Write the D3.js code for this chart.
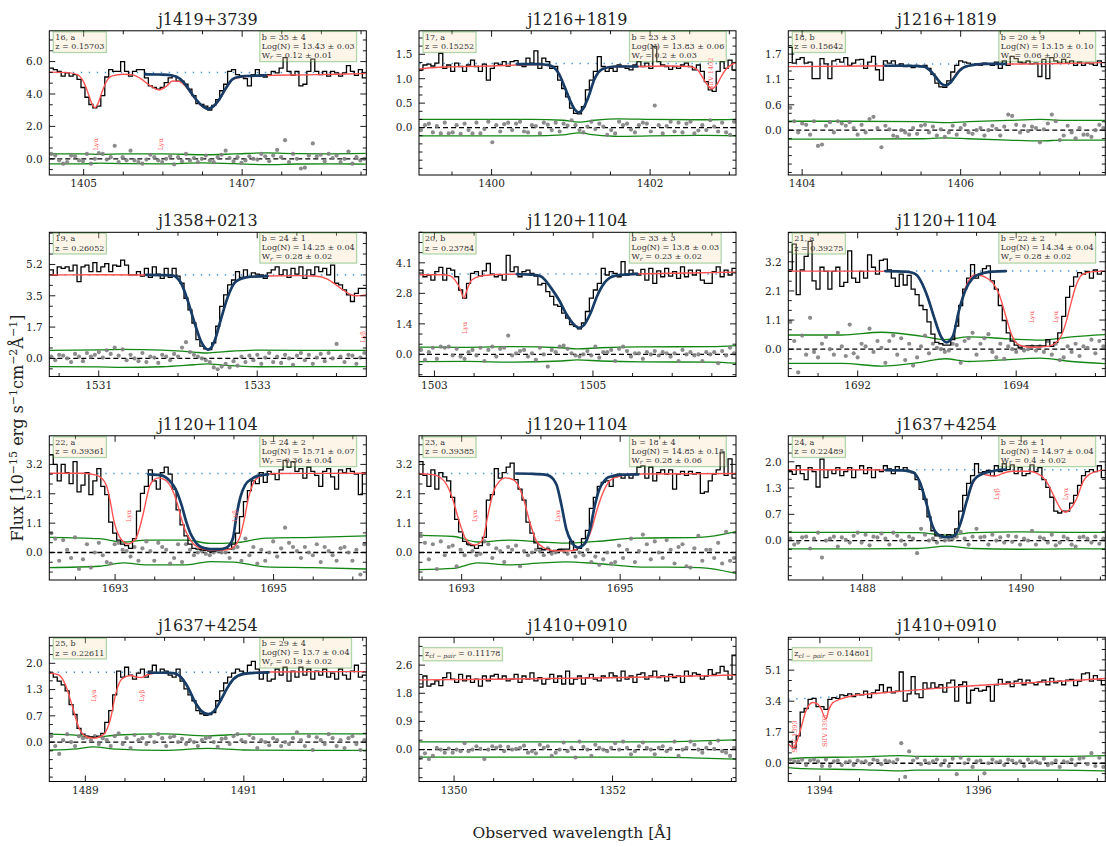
<!DOCTYPE html>
<html>
<head>
<meta charset="utf-8">
<script src="https://cdn.jsdelivr.net/npm/d3@7"></script>
<style>
  body { margin: 0; background: #fff; }
  svg text { font-family: "DejaVu Serif", "Liberation Serif", serif; }
</style>
</head>
<body>
<svg id="fig" width="1106" height="847"></svg>
<script>
// ---------------------------------------------------------------
// Absorber catalogue: one entry per panel
// ---------------------------------------------------------------
const LYA_REST = 1215.67;

const titles = ["j1419+3739", "j1216+1819", "j1216+1819", "j1358+0213", "j1120+1104", "j1120+1104",
                "j1120+1104", "j1120+1104", "j1637+4254", "j1637+4254", "j1410+0910", "j1410+0910"];
const idLabels = ["16, a", "17, a", "18, b", "19, a", "20, b", "21, a", "22, a", "23, a", "24, a", "25, b", null, null];
const zValues = ["0.15703", "0.15252", "0.15642", "0.26052", "0.23784", "0.39275",
                 "0.39361", "0.39385", "0.22489", "0.22611", "0.11178", "0.14801"];
const bLabels = ["35 ± 4", "23 ± 3", "20 ± 9", "24 ± 1", "33 ± 3", "22 ± 2", "24 ± 2", "18 ± 4", "26 ± 1", "29 ± 4", null, null];
const logNLabels = ["13.43 ± 0.03", "13.83 ± 0.06", "13.15 ± 0.10", "14.25 ± 0.04", "13.8 ± 0.03", "14.34 ± 0.04",
                    "15.71 ± 0.07", "14.85 ± 0.15", "14.97 ± 0.04", "13.7 ± 0.04", null, null];
const wLabels = ["0.12 ± 0.01", "0.2 ± 0.03", "0.06 ± 0.02", "0.28 ± 0.02", "0.23 ± 0.02", "0.28 ± 0.02",
                 "0.36 ± 0.04", "0.28 ± 0.06", "0.4 ± 0.02", "0.19 ± 0.02", null, null];

// axis ticks
const xTickLabels = [[1405, 1407], [1400, 1402], [1404, 1406], [1531, 1533], [1503, 1505], [1692, 1694],
                     [1693, 1695], [1693, 1695], [1488, 1490], [1489, 1491], [1350, 1352], [1394, 1396]];
const yTickTops = [6.0, 1.5, 1.7, 5.2, 4.14, 3.2, 3.2, 3.2, 2.0, 2.0, 2.64, 5.1];
const yLows  = [-1.0, -0.97, -1.0, -1.0, -1.0, -1.0, -1.0, -1.0, -1.0, -1.0, -1.0, -1.0];
const yHighs = [7.9, 1.98, 2.22, 6.98, 5.52, 4.28, 4.24, 4.24, 2.66, 2.66, 3.51, 6.9];

// ---------------------------------------------------------------
// Binned flux (80 bins across each 4 Å window)
// ---------------------------------------------------------------
const flux01 = [5.6,5.5,5.4,5.1,5.3,5.1,5.2,4.9,4.4,3.8, 3.35,3.15,3.25,3.9,5.05,5.5,5.4,5.4,6.0,5.4,
  5.1,5.4,5.5,5.5,5.0,4.5,4.4,4.3,4.4,4.7, 5.0,5.1,4.8,4.8,4.6,4.3,3.9,3.4,3.35,3.25,
  3.0,3.3,3.65,4.2,4.6,5.4,5.5,5.2,5.1,4.95, 4.5,5.2,5.5,5.2,5.05,5.2,5.4,5.3,5.6,6.25,
  5.4,5.15,5.4,4.5,4.6,5.4,6.15,5.4,5.2,5.4, 5.1,5.4,5.3,5.1,5.3,5.75,5.4,5.15,5.5,5.0];
const flux02 = [1.18,1.28,1.3,1.26,1.32,1.52,1.21,1.28,1.15,1.32, 1.25,1.15,1.28,1.38,1.25,1.15,1.3,0.97,1.21,1.32,
  1.28,1.35,1.26,1.35,1.37,1.28,1.25,1.42,1.32,1.57, 1.21,1.42,1.35,1.21,1.25,0.97,0.8,0.63,0.4,0.29,
  0.28,0.43,0.77,0.97,1.15,1.45,1.25,1.15,1.21,1.15, 1.28,1.25,1.21,1.18,1.28,1.35,1.25,1.32,1.21,1.66,
  1.35,1.28,1.25,1.19,1.25,1.21,1.28,1.32,1.25,1.18, 1.28,1.15,0.94,0.77,0.74,1.15,1.35,1.21,1.38,1.18];
const flux03 = [1.85,1.5,1.58,1.62,1.5,1.52,1.15,1.15,1.6,1.48, 1.15,1.55,1.58,1.52,1.62,1.45,1.5,1.57,1.58,1.38,
  1.52,1.65,1.35,1.12,1.55,1.5,1.55,1.45,1.48,1.42, 1.45,1.4,1.45,1.42,1.45,1.38,1.25,1.05,0.97,0.96,
  1.1,1.3,1.45,1.55,1.52,1.5,1.45,1.48,1.45,1.5, 1.48,1.45,1.52,1.38,1.55,1.45,1.65,1.6,1.52,1.5,
  1.55,1.48,1.5,1.2,1.58,1.15,1.62,1.55,1.5,1.58, 1.5,1.55,1.45,1.52,1.45,1.5,1.48,1.45,1.55,1.42];
const flux04 = [4.9,4.6,5.07,4.98,5.07,4.85,5.16,4.25,5.07,5.16, 4.8,5.3,4.8,5.07,5.25,4.8,5.16,5.1,5.44,5.16,
  4.62,4.62,4.8,4.56,4.98,4.49,5.07,4.67,4.43,4.98, 4.49,4.98,4.56,4.16,3.33,2.69,1.96,1.04,0.68,0.53,
  0.49,0.86,1.78,2.88,3.52,4.07,4.34,4.8,4.49,4.9, 4.52,4.74,4.67,4.62,4.43,4.74,4.9,5.07,4.62,4.9,
  4.49,4.98,4.67,5.07,4.43,4.9,4.62,5.07,4.8,4.98, 4.62,5.16,4.16,4.07,3.79,3.52,3.15,3.6,3.88,3.88];
const flux05 = [3.81,3.51,3.59,3.36,3.74,3.93,3.36,3.89,3.81,3.51, 2.91,2.54,3.21,3.66,3.74,3.54,3.78,4.11,3.63,3.51,
  3.59,3.36,4.48,3.74,3.96,3.51,3.74,3.81,3.66,3.54, 3.14,3.21,2.84,2.62,2.24,2.17,1.87,1.64,1.35,1.27,
  1.15,1.42,1.94,2.54,2.91,3.21,3.89,3.59,3.74,3.66, 3.51,4.19,3.59,3.81,3.66,3.59,3.84,3.36,3.89,3.21,
  3.78,3.51,3.89,3.54,3.74,3.44,3.96,3.51,3.81,3.59, 3.81,3.36,3.21,3.21,3.74,3.96,3.51,3.81,3.59,3.89];
const flux06 = [2.9,3.85,2.0,2.9,3.4,3.95,2.5,2.2,3.0,2.85, 2.2,2.85,3.0,2.3,2.45,3.6,2.6,2.45,2.85,2.6,
  3.45,3.0,2.75,3.25,3.3,2.9,2.6,2.3,2.75,2.35, 2.7,2.2,2.0,1.6,1.45,1.0,0.55,0.25,0.2,0.15,
  0.15,0.35,0.85,1.6,2.2,2.6,3.1,2.6,2.75,2.95, 3.05,2.5,2.2,1.6,1.05,0.6,0.3,0.15,0.05,0.1,
  0.12,0.12,0.12,0.12,0.12,0.35,0.1,0.25,0.6,1.2, 1.9,2.3,2.65,2.8,2.75,2.85,2.6,2.9,2.75,2.85];
const flux07 = [3.55,3.2,2.6,3.2,2.9,2.5,3.3,2.2,2.45,2.9, 2.1,2.6,3.05,2.4,2.1,1.1,0.7,0.45,0.3,0.25,
  0.15,0.5,1.5,2.15,2.4,3.0,2.6,2.3,2.9,3.1, 2.85,2.3,1.55,1.0,0.6,0.3,0.15,0.12,0.1,0.08,
  0.05,0.05,0.08,0.1,0.15,0.12,0.3,0.7,1.3,1.85, 2.25,2.6,2.5,2.9,2.55,2.95,2.85,2.65,3.0,3.35,
  3.1,3.3,2.95,3.05,2.7,3.1,2.95,2.8,2.4,2.95, 3.05,2.75,2.3,3.0,2.9,3.05,2.95,2.85,2.1,2.9];
const flux08 = [3.3,2.8,2.4,3.0,2.3,2.9,2.75,2.6,2.0,1.2, 0.75,0.4,0.3,0.25,0.15,0.25,0.55,1.9,2.1,3.05,
  2.7,2.9,3.1,3.25,2.65,2.3,1.9,1.1,0.7,0.35, 0.15,0.1,0.12,0.05,0.08,0.1,0.12,0.12,0.4,0.1,
  0.15,0.5,0.8,1.6,2.0,2.4,2.55,2.6,2.4,2.75, 2.85,2.7,2.8,2.7,2.85,3.1,3.15,2.7,3.1,2.6,
  2.9,3.0,2.85,3.0,2.3,2.85,2.95,2.8,2.95,2.85, 2.9,2.15,2.2,2.6,2.85,3.0,3.65,2.8,3.4,2.7];
const flux09 = [1.75,1.68,1.9,1.7,1.55,1.85,1.75,1.36,2.07,1.6, 1.8,1.7,1.85,1.65,1.75,1.85,1.6,1.8,1.9,1.7,
  1.85,1.6,1.8,1.75,1.9,1.82,1.7,1.88,1.78,1.85, 1.75,1.72,1.55,1.3,1.05,0.6,0.25,0.12,0.15,0.1,
  0.15,0.1,0.3,0.75,1.15,1.45,1.65,1.95,1.72,1.75, 1.78,1.65,1.9,1.75,1.95,1.8,1.92,1.7,1.85,1.65,
  1.7,1.92,1.75,1.85,1.55,1.35,1.1,0.75,0.7,0.75, 0.75,0.95,1.15,1.4,1.65,1.75,1.8,1.75,1.9,1.6];
const flux10 = [1.75,1.65,1.55,1.45,1.3,0.95,0.7,0.35,0.2,0.15, 0.13,0.12,0.15,0.22,0.5,0.8,1.2,1.8,1.65,1.9,
  1.7,1.6,1.75,1.85,1.65,1.8,1.95,1.75,1.85,1.8, 1.7,1.65,1.85,1.55,1.35,1.2,1.05,0.8,0.72,0.68,
  0.7,0.75,1.05,1.3,1.5,1.65,1.75,1.85,1.8,1.75, 1.95,2.05,1.85,1.6,1.75,1.55,1.6,1.85,1.7,1.9,
  1.55,1.8,1.65,1.9,1.7,1.85,1.6,1.8,1.7,1.85, 1.65,1.75,1.6,1.85,1.7,1.6,1.8,1.95,1.65,1.7];
const flux11 = [1.95,2.3,1.98,2.05,2.15,2.0,2.25,2.4,2.2,2.1, 2.35,2.15,2.3,2.1,2.2,1.98,2.3,2.15,2.3,2.35,
  2.2,2.3,2.15,2.2,2.35,2.1,2.3,2.2,2.4,2.15, 2.25,2.05,2.2,2.35,2.1,2.3,2.05,2.45,2.05,2.2,
  2.3,2.05,2.25,2.35,2.2,2.15,2.3,2.25,2.4,2.3, 2.15,2.45,2.2,2.3,2.1,2.35,2.4,2.2,2.3,2.45,
  2.25,2.3,2.15,2.35,2.25,2.3,2.1,2.45,2.3,2.4, 2.35,2.2,2.3,2.5,2.35,2.4,2.6,2.45,2.2,2.95];
const flux12 = [1.2,0.85,1.5,2.8,3.0,3.5,3.55,3.1,3.1,2.95, 3.5,3.6,3.55,3.75,3.7,3.8,3.65,3.8,3.75,3.95,
  3.6,3.85,4.0,4.3,3.9,4.15,3.85,3.95,5.0,3.4, 3.8,4.75,3.8,3.6,4.4,4.1,4.4,4.15,4.3,3.9,
  4.4,4.55,3.4,4.3,4.45,3.3,4.0,4.1,3.95,4.0, 4.2,3.4,4.3,4.6,4.35,4.45,4.2,4.5,4.6,4.3,
  4.55,4.4,4.3,4.45,4.55,4.3,4.65,4.4,4.5,4.3, 4.55,4.6,4.25,4.5,4.9,4.95,4.5,4.8,4.55,4.3];

// ---------------------------------------------------------------
// Residuals (flux minus model), same binning
// ---------------------------------------------------------------
const resid01 = [0.3,0.2,-0.1,-0.3,-0.2,0.2,0.15,-0.1,-0.15,0.3, -0.3,0.0,0.35,0.3,-0.05,0.1,0.8,-0.2,0.1,-0.1,
  0.5,-0.1,-0.2,-0.3,-0.05,0.25,0.1,-0.1,-0.2,0.0, 0.15,-0.35,0.1,-0.15,0.3,-0.1,0.05,-0.2,0.0,0.2,
  -0.1,-0.2,0.1,0.25,0.5,0.05,-0.15,0.1,-0.25,-0.1, 0.15,0.0,-0.05,0.3,0.15,-0.15,0.2,0.55,0.1,1.15,
  -0.2,0.3,0.0,-0.6,-0.55,0.2,0.95,0.15,0.25,-0.15, 0.3,0.05,0.2,-0.2,0.0,0.45,-0.3,0.1,-0.1,0.0];
const resid02 = [-0.05,0.05,0.08,-0.1,0.03,-0.12,0.1,-0.12,-0.1,0.05, -0.13,0.08,-0.05,-0.12,0.1,-0.12,-0.03,0.12,-0.3,0.05,
  -0.08,0.07,0.1,-0.05,0.08,0.12,-0.08,-0.1,0.05,0.03, -0.12,0.1,0.06,-0.05,0.1,-0.08,0.08,0.04,0.15,0.05,
  -0.05,-0.1,0.02,0.12,-0.03,0.08,0.02,-0.15,-0.05,-0.12, 0.12,0.05,0.08,-0.04,-0.1,0.05,0.1,0.08,-0.08,0.45,
  0.05,-0.12,0.03,0.12,-0.08,0.1,-0.1,0.08,0.12,-0.12, -0.06,0.05,-0.05,0.15,0.02,-0.08,0.1,-0.1,-0.15,0.12];
const resid03 = [0.5,0.2,-0.05,0.15,0.12,-0.1,0.2,-0.35,-0.32,0.1, 0.18,-0.05,0.2,0.15,0.1,0.18,0.05,-0.1,0.12,-0.05,
  0.25,0.3,0.05,-0.38,0.1,0.02,-0.12,-0.15,0.0,-0.05, -0.1,0.05,-0.08,0.1,0.12,-0.05,0.08,-0.12,0.02,-0.15,
  -0.05,0.1,-0.1,0.05,0.12,-0.05,-0.08,0.0,0.05,-0.12, 0.0,0.1,0.03,-0.12,0.08,0.35,0.32,0.12,-0.05,0.1,
  -0.02,0.08,0.05,-0.27,0.02,0.15,0.35,0.2,-0.22,-0.12, 0.1,-0.05,-0.18,0.05,-0.1,-0.1,-0.15,0.0,0.12,0.05];
const resid04 = [0.1,-0.1,0.2,0.15,0.0,-0.2,0.25,0.1,-0.15,0.3, 0.1,0.2,0.35,0.05,0.45,0.25,0.6,0.15,0.5,-0.1,
  0.2,0.0,-0.15,0.3,-0.2,0.1,0.05,-0.25,0.2,0.1, -0.1,0.25,0.1,0.6,0.9,0.35,0.2,0.1,0.0,-0.1,
  -0.2,-0.5,-0.6,-0.45,-0.3,-0.5,-0.15,-0.4,0.1,-0.2, 0.15,-0.1,0.2,-0.3,0.05,0.3,-0.2,0.1,-0.25,0.2,
  0.0,-0.35,0.15,0.3,-0.1,0.2,-0.3,0.05,0.25,-0.15, 0.3,0.0,0.8,0.1,-0.2,0.2,0.15,-0.3,0.05,0.3];
const resid05 = [0.2,-0.25,0.1,0.3,-0.2,0.35,0.3,0.35,-0.05,0.25, -0.1,-0.2,0.1,0.2,-0.05,0.3,-0.3,0.2,0.35,-0.1,
  0.25,0.3,0.85,-0.05,0.05,0.15,0.2,-0.1,0.05,-0.25, 0.3,0.0,-0.55,0.2,0.1,0.35,0.4,0.25,0.05,-0.05,
  -0.1,0.0,0.15,-0.05,0.35,-0.15,0.1,0.1,0.2,-0.3, 0.25,0.35,0.15,-0.1,0.05,0.05,-0.2,0.1,0.0,0.15,
  -0.05,0.1,0.05,-0.1,0.05,-0.3,0.2,0.0,0.1,-0.05, 0.0,-0.3,0.1,0.0,0.1,-0.4,0.15,-0.05,0.3,0.05];
const resid06 = [1.0,0.3,-0.85,0.5,-0.2,1.15,-0.1,-0.3,0.2,0.45, 0.0,-0.2,0.6,0.1,-0.25,0.9,-0.15,-0.3,0.2,0.1,
  0.75,-0.1,0.3,0.05,-0.5,0.3,0.5,-0.2,0.4,-0.4, 0.2,-0.6,-0.3,0.1,0.5,-0.15,0.2,0.05,0.0,-0.1,
  -0.05,0.2,0.15,-0.5,0.3,0.4,0.6,-0.2,0.2,0.4, 0.55,-0.1,-0.3,0.2,-0.35,0.1,0.0,-0.1,0.05,-0.05,
  0.0,0.1,-0.05,0.1,-0.1,0.3,-0.2,0.2,-0.4,-0.3, 0.1,-0.1,0.2,-0.25,0.1,0.05,0.35,-0.15,0.3,0.1];
const resid07 = [0.7,0.5,-0.3,0.45,0.1,-0.2,0.55,-0.6,-0.25,0.3, -0.55,0.0,0.35,-0.1,-0.35,-0.4,0.3,0.35,0.1,0.05,
  -0.15,0.2,-0.3,0.15,0.4,0.05,-0.3,0.35,0.2,0.1, -0.4,-0.2,0.3,-0.35,0.3,0.1,-0.1,0.0,0.05,-0.05,
  -0.1,0.0,0.05,0.0,0.0,-0.2,0.15,0.2,-0.3,0.5, -0.1,0.2,-0.4,0.1,-0.3,0.0,0.4,-0.15,0.15,0.9,
  0.35,0.2,0.05,-0.2,0.2,0.0,-0.1,0.3,-0.35,0.2, 0.05,-0.1,-0.3,0.15,0.2,0.0,-0.3,0.1,-0.8,0.3];
const resid08 = [0.6,0.35,-0.25,0.3,-0.6,0.4,-0.1,0.2,0.25,-0.5, 0.1,-0.1,0.3,0.05,-0.1,-0.05,0.4,0.3,-0.2,0.15,
  0.05,-0.35,0.2,0.1,0.25,-0.5,0.05,-0.1,0.0,0.1, 0.05,-0.1,0.15,-0.05,0.0,0.1,0.05,-0.05,0.35,-0.15,
  0.0,-0.1,0.1,-0.35,-0.15,-0.45,-0.25,0.0,-0.4,-0.35, 0.25,-0.2,0.1,0.5,-0.35,0.05,0.65,0.3,-0.25,0.4,
  0.0,-0.2,0.45,0.1,-0.4,0.2,0.3,-0.5,-0.55,0.15, 0.6,-0.3,0.1,0.1,-0.2,0.35,-0.4,0.75,-0.3,-0.2];
const resid09 = [0.05,-0.1,-0.05,0.08,0.1,-0.2,0.05,0.2,-0.43,0.0, 0.05,0.1,-0.15,0.08,0.02,-0.05,0.12,0.2,-0.05,0.15,
  -0.12,0.1,0.08,0.18,0.05,-0.1,0.2,0.12,0.0,-0.1, 0.1,0.05,-0.32,0.3,0.15,0.0,0.05,-0.05,0.08,0.0,
  0.02,0.05,0.1,0.22,0.05,-0.1,0.1,0.3,0.08,0.1, -0.1,0.15,0.0,0.08,-0.05,0.12,-0.03,0.1,-0.1,0.05,
  0.0,0.25,-0.1,0.08,0.05,-0.05,0.15,-0.12,-0.05,0.1, 0.05,-0.1,-0.15,0.08,0.1,0.05,-0.05,0.1,-0.08,0.05];
const resid10 = [0.15,-0.1,-0.3,0.05,0.2,0.0,-0.1,0.15,0.1,0.12, 0.05,0.15,-0.05,0.1,0.05,-0.1,0.15,0.22,-0.05,0.1,
  -0.15,0.18,0.05,0.1,-0.05,0.15,0.0,0.2,0.1,-0.1, 0.12,0.15,0.0,0.08,-0.05,0.05,0.0,-0.1,0.05,0.1,
  0.12,0.0,-0.12,0.08,0.1,-0.05,0.15,0.2,0.05,0.0, 0.18,0.1,-0.15,0.05,0.0,-0.08,0.1,0.05,-0.1,0.0,
  -0.05,0.1,0.25,0.05,-0.1,0.15,-0.2,0.12,0.05,-0.05, 0.2,0.1,-0.1,0.05,-0.15,0.1,0.15,-0.05,-0.2,0.05];
const resid11 = [-0.25,-0.12,-0.3,-0.2,0.05,0.0,-0.1,0.03,-0.1,0.0, -0.05,0.2,-0.05,0.0,0.1,0.02,-0.3,0.0,0.1,0.05,
  0.1,-0.05,0.08,0.0,0.02,0.05,0.12,-0.1,-0.05,-0.12, 0.15,0.05,0.1,-0.2,-0.1,0.0,0.22,-0.05,0.05,-0.25,
  0.25,0.08,0.0,-0.2,0.15,0.05,0.0,-0.05,0.05,0.2, 0.0,0.25,0.05,-0.15,-0.05,0.1,0.22,0.05,0.0,-0.15,
  0.05,0.1,-0.05,0.03,0.25,-0.2,0.0,0.05,0.25,0.15, 0.0,-0.1,0.05,0.2,0.02,0.28,-0.05,-0.1,-0.2,0.05];
const resid12 = [0.2,0.1,0.1,0.2,-0.1,0.15,0.2,0.1,-0.15,0.2, -0.15,0.1,0.15,-0.1,0.05,0.1,-0.1,0.15,0.05,0.1,
  -0.05,0.2,0.15,-0.05,0.15,0.1,0.05,0.2,1.1,-0.75, 0.65,0.15,0.3,-0.05,0.15,0.0,0.1,0.2,-0.1,0.15,
  -0.15,0.25,-0.6,0.3,0.0,0.2,-0.2,0.1,0.15,-0.55, 0.0,0.2,0.05,0.1,-0.1,0.2,0.15,0.0,0.1,-0.15,
  0.2,0.05,0.1,0.0,0.25,-0.1,0.0,0.15,-0.2,0.1, 0.05,0.2,-0.1,0.25,0.3,-0.05,0.55,-0.15,0.3,-0.2];

// ---------------------------------------------------------------
// 1-sigma error envelope: [wavelength, sigma]
// ---------------------------------------------------------------
const err01 = [[1404.56,0.31],[1405.0,0.31],[1405.2,0.27],[1405.5,0.3],[1406.0,0.31],[1406.5,0.25],[1406.9,0.3],[1407.3,0.36],[1407.7,0.32],[1408.1,0.31],[1408.56,0.33]];
const err02 = [[1399.09,0.17],[1400.0,0.17],[1400.5,0.17],[1400.9,0.15],[1401.1,0.11],[1401.3,0.15],[1401.6,0.18],[1402.0,0.17],[1402.7,0.16],[1403.09,0.17]];
const err03 = [[1403.82,0.2],[1404.5,0.2],[1405.5,0.19],[1405.8,0.17],[1406.1,0.19],[1406.6,0.22],[1407.0,0.24],[1407.3,0.22],[1407.82,0.22]];
const err04 = [[1530.37,0.45],[1531.0,0.47],[1531.3,0.5],[1531.8,0.46],[1532.2,0.35],[1532.37,0.3],[1532.6,0.38],[1533.0,0.46],[1533.5,0.45],[1534.37,0.45]];
const err05 = [[1502.81,0.33],[1503.4,0.32],[1504.0,0.35],[1504.6,0.3],[1504.8,0.25],[1505.1,0.3],[1505.6,0.34],[1506.5,0.35],[1506.81,0.4]];
const err06 = [[1691.12,0.52],[1691.8,0.52],[1692.3,0.62],[1692.8,0.48],[1693.1,0.35],[1693.4,0.45],[1693.9,0.38],[1694.3,0.33],[1694.7,0.45],[1695.12,0.53]];
const err07 = [[1692.17,0.55],[1692.8,0.5],[1693.1,0.38],[1693.4,0.45],[1693.9,0.45],[1694.2,0.33],[1694.5,0.35],[1694.9,0.52],[1695.5,0.55],[1696.17,0.6]];
const err08 = [[1692.46,0.62],[1692.9,0.58],[1693.2,0.38],[1693.6,0.45],[1694.0,0.38],[1694.3,0.34],[1694.7,0.4],[1695.2,0.52],[1696.0,0.55],[1696.46,0.76]];
const err09 = [[1487.06,0.21],[1488.0,0.21],[1488.7,0.2],[1489.06,0.14],[1489.4,0.2],[1490.0,0.22],[1490.6,0.21],[1491.06,0.21]];
const err10 = [[1488.55,0.2],[1488.9,0.17],[1489.1,0.12],[1489.4,0.18],[1490.0,0.21],[1490.55,0.16],[1491.0,0.2],[1491.8,0.21],[1492.55,0.21]];
const err11 = [[1349.56,0.24],[1350.5,0.24],[1351.5,0.24],[1352.5,0.24],[1353.0,0.26],[1353.56,0.3]];
const err12 = [[1393.6,0.24],[1393.8,0.3],[1394.5,0.35],[1395.0,0.42],[1395.2,0.38],[1396.0,0.38],[1397.0,0.38],[1397.6,0.42]];

// ---------------------------------------------------------------
// Full model (all components), sampled [wavelength, flux]
// ---------------------------------------------------------------
const model01 = [[1404.56,5.35],[1404.8,5.32],[1404.92,5.2],[1405.0,4.75],[1405.06,4.0],[1405.1,3.45],[1405.14,3.15],[1405.18,3.4],[1405.23,4.1],[1405.29,4.8],[1405.36,5.12],[1405.5,5.22],[1405.62,5.18],[1405.72,4.95],[1405.83,4.55],[1405.95,4.25],[1406.05,4.5],[1406.12,4.8],[1406.2,4.78],[1406.29,4.45],[1406.42,3.62],[1406.5,3.22],[1406.57,3.06],[1406.64,3.22],[1406.71,3.62],[1406.8,4.35],[1406.88,4.9],[1407.05,5.08],[1407.3,5.14],[1407.8,5.18],[1408.2,5.22],[1408.56,5.26]];
const model02 = [[1399.09,1.2],[1399.2,1.22],[1399.4,1.24],[1399.7,1.25],[1400.0,1.26],[1400.32,1.28],[1400.6,1.29],[1400.74,1.26],[1400.85,1.1],[1400.93,0.8],[1401.0,0.52],[1401.05,0.37],[1401.1,0.31],[1401.16,0.4],[1401.22,0.62],[1401.3,1.0],[1401.4,1.2],[1401.55,1.25],[1401.84,1.25],[1402.2,1.26],[1402.5,1.25],[1402.6,1.18],[1402.68,0.98],[1402.74,0.84],[1402.78,0.8],[1402.83,0.85],[1402.9,1.05],[1402.96,1.2],[1403.02,1.28],[1403.09,1.33]];
const model03 = [[1403.82,1.42],[1404.5,1.43],[1405.2,1.44],[1405.5,1.43],[1405.6,1.35],[1405.68,1.2],[1405.75,1.05],[1405.81,1.0],[1405.88,1.08],[1405.95,1.28],[1406.05,1.42],[1406.3,1.47],[1406.8,1.48],[1407.3,1.49],[1407.82,1.51]];
const model04 = [[1530.37,4.62],[1531.0,4.63],[1531.6,4.62],[1531.93,4.6],[1531.99,4.45],[1532.04,4.16],[1532.12,3.24],[1532.21,1.96],[1532.29,0.95],[1532.34,0.6],[1532.38,0.49],[1532.42,0.6],[1532.46,0.95],[1532.54,2.14],[1532.63,3.42],[1532.71,4.16],[1532.78,4.38],[1532.86,4.49],[1533.13,4.56],[1533.5,4.58],[1533.75,4.55],[1533.88,4.4],[1533.98,4.12],[1534.08,3.8],[1534.17,3.55],[1534.25,3.47],[1534.37,3.52]];
const model05 = [[1502.81,3.6],[1503.1,3.6],[1503.2,3.55],[1503.26,3.36],[1503.33,2.91],[1503.37,2.54],[1503.41,2.91],[1503.47,3.36],[1503.58,3.54],[1503.8,3.61],[1504.04,3.63],[1504.25,3.6],[1504.34,3.53],[1504.4,3.35],[1504.46,3.06],[1504.57,2.47],[1504.67,1.79],[1504.76,1.35],[1504.82,1.2],[1504.88,1.3],[1504.97,1.87],[1505.05,2.62],[1505.14,3.21],[1505.2,3.43],[1505.26,3.54],[1505.56,3.64],[1506.2,3.68],[1506.81,3.72]];
const model06 = [[1691.12,2.86],[1692.0,2.86],[1692.5,2.85],[1692.69,2.8],[1692.79,2.53],[1692.88,1.93],[1692.96,1.2],[1693.05,0.47],[1693.12,0.25],[1693.2,0.47],[1693.28,1.44],[1693.36,2.25],[1693.42,2.6],[1693.47,2.72],[1693.55,2.7],[1693.62,2.62],[1693.71,2.41],[1693.78,2.05],[1693.87,1.2],[1693.95,0.47],[1694.03,0.17],[1694.15,0.08],[1694.25,0.07],[1694.41,0.11],[1694.54,0.35],[1694.62,0.9],[1694.68,1.56],[1694.75,2.29],[1694.83,2.72],[1694.96,2.84],[1695.12,2.86]];
const model07 = [[1692.17,2.88],[1692.6,2.88],[1692.75,2.82],[1692.83,2.7],[1692.89,2.44],[1692.94,1.85],[1692.98,1.22],[1693.02,0.8],[1693.06,0.55],[1693.12,0.36],[1693.17,0.31],[1693.22,0.38],[1693.27,0.55],[1693.31,0.9],[1693.36,1.47],[1693.4,2.0],[1693.44,2.44],[1693.5,2.66],[1693.55,2.71],[1693.6,2.68],[1693.65,2.6],[1693.72,2.3],[1693.78,1.83],[1693.83,1.3],[1693.88,0.85],[1693.94,0.5],[1693.99,0.31],[1694.08,0.15],[1694.16,0.1],[1694.3,0.09],[1694.41,0.1],[1694.49,0.18],[1694.54,0.35],[1694.58,0.61],[1694.61,0.95],[1694.64,1.34],[1694.68,1.95],[1694.71,2.25],[1694.74,2.5],[1694.8,2.72],[1694.87,2.81],[1695.0,2.87],[1696.17,2.88]];
const model08 = [[1692.46,2.86],[1692.6,2.84],[1692.68,2.8],[1692.74,2.7],[1692.79,2.56],[1692.87,2.08],[1692.96,1.22],[1693.04,0.55],[1693.1,0.33],[1693.17,0.27],[1693.23,0.35],[1693.27,0.49],[1693.33,1.34],[1693.4,2.2],[1693.48,2.6],[1693.55,2.71],[1693.62,2.68],[1693.69,2.55],[1693.78,1.95],[1693.86,1.1],[1693.94,0.43],[1694.03,0.18],[1694.12,0.08],[1694.2,0.06],[1694.37,0.06],[1694.49,0.18],[1694.58,0.43],[1694.64,0.85],[1694.7,1.47],[1694.77,2.08],[1694.85,2.54],[1694.93,2.72],[1695.0,2.78],[1695.21,2.85],[1696.46,2.87]];
const model09 = [[1487.06,1.8],[1488.0,1.8],[1488.4,1.79],[1488.63,1.74],[1488.72,1.49],[1488.8,0.98],[1488.88,0.38],[1488.97,0.13],[1489.06,0.085],[1489.16,0.13],[1489.24,0.47],[1489.31,0.98],[1489.38,1.4],[1489.45,1.62],[1489.52,1.68],[1489.6,1.65],[1489.68,1.64],[1489.76,1.7],[1489.89,1.76],[1490.1,1.76],[1490.19,1.72],[1490.31,1.53],[1490.44,1.02],[1490.5,0.8],[1490.56,0.72],[1490.62,0.8],[1490.69,1.02],[1490.79,1.53],[1490.86,1.68],[1490.92,1.74],[1491.06,1.79]];
const model10 = [[1488.55,1.75],[1488.66,1.71],[1488.75,1.45],[1488.83,0.95],[1488.92,0.36],[1489.02,0.13],[1489.1,0.1],[1489.15,0.11],[1489.23,0.19],[1489.32,0.61],[1489.38,1.2],[1489.46,1.6],[1489.57,1.69],[1489.65,1.65],[1489.71,1.64],[1489.78,1.71],[1489.95,1.76],[1490.11,1.75],[1490.22,1.62],[1490.3,1.37],[1490.38,1.03],[1490.47,0.78],[1490.55,0.71],[1490.62,0.78],[1490.7,1.03],[1490.79,1.37],[1490.87,1.6],[1491.0,1.73],[1491.31,1.78],[1492.0,1.79],[1492.55,1.79]];
const model11 = [[1349.56,2.18],[1350.5,2.2],[1351.5,2.23],[1352.5,2.27],[1353.56,2.33]];
const model12 = [[1393.6,1.05],[1393.63,0.95],[1393.66,0.86],[1393.7,1.09],[1393.76,1.91],[1393.82,2.82],[1393.91,3.33],[1393.97,3.25],[1394.02,2.95],[1394.06,2.5],[1394.08,2.45],[1394.11,2.9],[1394.16,3.3],[1394.25,3.5],[1394.41,3.7],[1394.62,3.79],[1395.04,3.95],[1395.46,4.1],[1395.88,4.23],[1396.3,4.34],[1396.73,4.43],[1397.15,4.52],[1397.6,4.64]];

// ---------------------------------------------------------------
// Fitted Lyα component of the target absorber
// ---------------------------------------------------------------
const fit01 = [[1405.78,5.21],[1406.0,5.2],[1406.12,5.14],[1406.22,4.93],[1406.29,4.55],[1406.36,4.05],[1406.42,3.66],[1406.5,3.25],[1406.57,3.08],[1406.64,3.25],[1406.71,3.66],[1406.8,4.4],[1406.88,4.92],[1406.96,5.06],[1407.05,5.11],[1407.3,5.15]];
const fit02 = [[1400.32,1.3],[1400.6,1.3],[1400.74,1.27],[1400.85,1.1],[1400.93,0.8],[1401.0,0.52],[1401.05,0.37],[1401.1,0.31],[1401.16,0.4],[1401.22,0.62],[1401.3,1.0],[1401.4,1.2],[1401.55,1.25],[1401.84,1.25]];
const fit03 = [[1405.05,1.44],[1405.3,1.44],[1405.54,1.42],[1405.62,1.32],[1405.68,1.2],[1405.75,1.05],[1405.81,1.0],[1405.87,1.06],[1405.93,1.2],[1405.98,1.32],[1406.1,1.44],[1406.31,1.48],[1406.57,1.48]];
const fit04 = [[1531.6,4.62],[1531.93,4.6],[1531.99,4.45],[1532.04,4.16],[1532.12,3.24],[1532.21,1.96],[1532.29,0.95],[1532.34,0.6],[1532.38,0.49],[1532.42,0.6],[1532.46,0.95],[1532.54,2.14],[1532.63,3.42],[1532.71,4.16],[1532.78,4.38],[1532.86,4.49],[1533.13,4.56]];
const fit05 = [[1504.04,3.63],[1504.25,3.6],[1504.34,3.53],[1504.4,3.35],[1504.46,3.06],[1504.57,2.47],[1504.67,1.79],[1504.76,1.35],[1504.82,1.2],[1504.88,1.3],[1504.97,1.87],[1505.05,2.62],[1505.14,3.21],[1505.2,3.43],[1505.26,3.54],[1505.4,3.61],[1505.56,3.64]];
const fit06 = [[1692.35,2.86],[1692.6,2.84],[1692.69,2.8],[1692.75,2.7],[1692.79,2.53],[1692.88,1.93],[1692.96,1.2],[1693.05,0.47],[1693.12,0.25],[1693.2,0.47],[1693.28,1.44],[1693.36,2.17],[1693.45,2.59],[1693.57,2.78],[1693.7,2.84],[1693.87,2.86]];
const fit07 = [[1693.42,2.84],[1693.57,2.81],[1693.64,2.73],[1693.69,2.6],[1693.74,2.42],[1693.78,2.2],[1693.84,1.71],[1693.9,1.1],[1693.95,0.7],[1693.99,0.49],[1694.03,0.32],[1694.07,0.22],[1694.14,0.15],[1694.2,0.12],[1694.32,0.12],[1694.41,0.18],[1694.45,0.3],[1694.49,0.55],[1694.53,1.3],[1694.58,2.0],[1694.64,2.45],[1694.74,2.7],[1694.82,2.8],[1694.93,2.84]];
const fit08 = [[1693.69,2.87],[1693.9,2.86],[1694.05,2.83],[1694.11,2.78],[1694.16,2.65],[1694.2,2.44],[1694.26,1.71],[1694.32,0.85],[1694.39,0.37],[1694.47,0.18],[1694.55,0.31],[1694.62,0.85],[1694.68,1.71],[1694.74,2.32],[1694.8,2.6],[1694.85,2.73],[1695.04,2.83],[1695.23,2.84]];
const fit09 = [[1488.29,1.79],[1488.5,1.78],[1488.63,1.74],[1488.72,1.49],[1488.8,0.98],[1488.88,0.38],[1488.97,0.13],[1489.06,0.085],[1489.16,0.13],[1489.24,0.47],[1489.31,0.98],[1489.39,1.49],[1489.45,1.63],[1489.52,1.7],[1489.68,1.78],[1489.81,1.8]];
const fit10 = [[1489.8,1.76],[1490.0,1.76],[1490.11,1.75],[1490.22,1.62],[1490.3,1.37],[1490.38,1.03],[1490.47,0.78],[1490.55,0.71],[1490.62,0.78],[1490.7,1.03],[1490.79,1.37],[1490.87,1.6],[1491.0,1.73],[1491.15,1.76],[1491.31,1.77]];

// ---------------------------------------------------------------
// Continuum level (dotted)
// ---------------------------------------------------------------
const cont01 = [[1404.56,5.32],[1408.56,5.32]];
const cont02 = [[1399.09,1.31],[1403.09,1.31]];
const cont03 = [[1403.82,1.48],[1407.82,1.48]];
const cont04 = [[1530.37,4.62],[1534.37,4.62]];
const cont05 = [[1502.81,3.63],[1506.81,3.63]];
const cont06 = [[1691.12,2.86],[1695.12,2.86]];
const cont07 = [[1692.17,2.87],[1696.17,2.87]];
const cont08 = [[1692.46,2.87],[1696.46,2.87]];
const cont09 = [[1487.06,1.8],[1491.06,1.8]];
const cont10 = [[1488.55,1.77],[1492.55,1.77]];
const cont11 = [[1349.56,2.18],[1350.5,2.2],[1351.5,2.23],[1352.5,2.27],[1353.56,2.33]];
const cont12 = [[1393.6,3.5],[1394.0,3.6],[1394.62,3.79],[1395.46,4.1],[1396.3,4.34],[1397.15,4.52],[1397.6,4.64]];

// ---------------------------------------------------------------
// Line identifications: [text, wavelength, flux of label centre]
// ---------------------------------------------------------------
const lines01 = [["Lyα",1405.16,0.9],["Lyα",1405.98,0.9]];
const lines02 = [["SiIV 1402",1402.77,1.1]];
const lines03 = [];
const lines04 = [["Lyβ",1534.33,1.2]];
const lines05 = [["Lyα",1503.38,1.2]];
const lines06 = [["Lyα",1694.2,1.18],["Lyα",1694.5,1.18]];
const lines07 = [["Lyα",1693.18,1.33],["Lyβ",1694.51,1.33]];
const lines08 = [["Lyα",1693.17,1.33],["Lyα",1694.21,1.33]];
const lines09 = [["Lyβ",1489.69,1.18],["Lyα",1490.57,1.18]];
const lines10 = [["Lyα",1489.11,1.18],["Lyβ",1489.71,1.18]];
const lines11 = [];
const lines12 = [["SiIV 1393",1393.68,1.46],["SiIV 1393",1394.07,1.78]];

const fluxes = [flux01,flux02,flux03,flux04,flux05,flux06,flux07,flux08,flux09,flux10,flux11,flux12];
const resids = [resid01,resid02,resid03,resid04,resid05,resid06,resid07,resid08,resid09,resid10,resid11,resid12];
const errs = [err01,err02,err03,err04,err05,err06,err07,err08,err09,err10,err11,err12];
const models = [model01,model02,model03,model04,model05,model06,model07,model08,model09,model10,model11,model12];
const fits = [fit01,fit02,fit03,fit04,fit05,fit06,fit07,fit08,fit09,fit10,null,null];
const conts = [cont01,cont02,cont03,cont04,cont05,cont06,cont07,cont08,cont09,cont10,cont11,cont12];
const lineIds = [lines01,lines02,lines03,lines04,lines05,lines06,lines07,lines08,lines09,lines10,lines11,lines12];

// ---------------------------------------------------------------
// Layout and style
// ---------------------------------------------------------------
const colX = [49.3, 419, 788.3];
const rowY = [30.8, 232.3, 435.8, 637.3];
const PW = 317, PH = 144.2;
const C = {
  flux: "#000000", model: "#ff5252", fit: "#173d66", err: "#138613",
  resid: "#808080", cont: "#4a94d8", ident: "#ff5a5a"
};

const svg = d3.select("#fig");
svg.append("rect").attr("width", 1106).attr("height", 847).attr("fill", "#fff");
const defs = svg.append("defs");

titles.forEach((title, k) => {
  const z = +zValues[k];
  const lc = LYA_REST * (1 + z);
  const lo = lc - 2, hi = lc + 2;
  const x = d3.scaleLinear().domain([lo, hi]).range([0, PW]);
  const y = d3.scaleLinear().domain([yLows[k], yHighs[k]]).range([PH, 0]);
  const g = svg.append("g").attr("transform", `translate(${colX[k % 3]},${rowY[Math.floor(k / 3)]})`);

  defs.append("clipPath").attr("id", "clip" + k)
    .append("rect").attr("width", PW).attr("height", PH);
  const plot = g.append("g").attr("clip-path", `url(#clip${k})`);
  const xy = d3.line().x(d => x(d[0])).y(d => y(d[1]));
  const smooth = d3.line().curve(d3.curveMonotoneX).x(d => x(d[0])).y(d => y(d[1]));

  // continuum
  plot.append("path").datum(conts[k]).attr("d", smooth)
    .attr("fill", "none").attr("stroke", C.cont).attr("stroke-width", 1.5)
    .attr("stroke-dasharray", "1.4,6.6");

  // zero level
  plot.append("path").datum([[lo, 0], [hi, 0]]).attr("d", xy)
    .attr("fill", "none").attr("stroke", "#000").attr("stroke-width", 1.3)
    .attr("stroke-dasharray", "5,3");

  // error envelope
  [1, -1].forEach(s => {
    plot.append("path").datum(errs[k].map(d => [d[0], s * d[1]])).attr("d", smooth)
      .attr("fill", "none").attr("stroke", C.err).attr("stroke-width", 1.3);
  });

  // residuals
  const res = resids[k], dr = (hi - lo) / res.length;
  plot.append("g").selectAll("circle").data(res).join("circle")
    .attr("cx", (d, i) => x(lo + (i + 0.5) * dr))
    .attr("cy", d => y(d))
    .attr("r", 2.1).attr("fill", C.resid).attr("fill-opacity", 0.9);

  // binned flux as a step histogram
  const fl = fluxes[k], df = (hi - lo) / fl.length;
  const steps = fl.map((v, i) => [lo + i * df, v]);
  steps.push([hi, fl[fl.length - 1]]);
  plot.append("path").datum(steps)
    .attr("d", d3.line().curve(d3.curveStepAfter).x(d => x(d[0])).y(d => y(d[1])))
    .attr("fill", "none").attr("stroke", C.flux).attr("stroke-width", 1.3);

  // full model
  plot.append("path").datum(models[k]).attr("d", smooth)
    .attr("fill", "none").attr("stroke", C.model).attr("stroke-width", 1.4);

  // fitted component
  if (fits[k]) {
    plot.append("path").datum(fits[k]).attr("d", smooth)
      .attr("fill", "none").attr("stroke", C.fit).attr("stroke-width", 2.7)
      .attr("stroke-linecap", "round");
  }

  // line identifications
  lineIds[k].forEach(([txt, wl, fv]) => {
    plot.append("text")
      .attr("transform", `translate(${x(wl)},${y(fv)}) rotate(-90)`)
      .attr("text-anchor", "middle").attr("dominant-baseline", "central")
      .attr("font-size", 6.5).attr("fill", C.ident).text(txt);
  });

  // frame
  g.append("rect").attr("width", PW).attr("height", PH)
    .attr("fill", "none").attr("stroke", "#000").attr("stroke-width", 1);

  // ticks (inward, all four sides)
  const tk = g.append("g").attr("stroke", "#000").attr("stroke-width", 0.9);
  const majX = xTickLabels[k];
  const minX = d3.range(Math.ceil(lo * 2) / 2, hi, 0.5).filter(t => !majX.includes(t));
  const tickX = (t, len) => {
    tk.append("line").attr("x1", x(t)).attr("x2", x(t)).attr("y1", PH).attr("y2", PH - len);
    tk.append("line").attr("x1", x(t)).attr("x2", x(t)).attr("y1", 0).attr("y2", len);
  };
  majX.forEach(t => tickX(t, 6));
  minX.forEach(t => tickX(t, 3.5));

  const T = yTickTops[k];
  const majY = [0, 1, 2, 3].map(i => T * i / 3);
  const ystep = T / 9;
  const minY = d3.range(Math.ceil(yLows[k] / ystep), Math.floor(yHighs[k] / ystep) + 1)
    .filter(j => j % 3 !== 0 || j < 0 || j > 9).map(j => j * ystep);
  const tickY = (v, len) => {
    tk.append("line").attr("x1", 0).attr("x2", len).attr("y1", y(v)).attr("y2", y(v));
    tk.append("line").attr("x1", PW).attr("x2", PW - len).attr("y1", y(v)).attr("y2", y(v));
  };
  majY.forEach(v => tickY(v, 6));
  minY.forEach(v => tickY(v, 3.5));

  // tick labels
  majX.forEach(t => {
    g.append("text").attr("x", x(t)).attr("y", PH + 12.3).attr("text-anchor", "middle")
      .attr("font-size", 10.5).attr("fill", "#222").text(d3.format("d")(t));
  });
  majY.forEach(v => {
    g.append("text").attr("x", -6.5).attr("y", y(v) + 3.8).attr("text-anchor", "end")
      .attr("font-size", 10.5).attr("fill", "#222").text(d3.format(".1f")(v));
  });

  // title
  g.append("text").attr("x", PW / 2).attr("y", -6).attr("text-anchor", "middle")
    .attr("font-size", 16).attr("fill", "#222").text(title);

  // annotation boxes
  const boxed = (build) => {
    const bg = g.append("g");
    const rect = bg.append("rect");
    const tg = bg.append("g").attr("font-size", 8).attr("fill", "#333");
    build(tg);
    const bb = tg.node().getBBox();
    rect.attr("x", bb.x - 2).attr("y", bb.y - 1.2).attr("width", bb.width + 4).attr("height", bb.height + 2.4)
      .attr("fill", "#f5deb3").attr("fill-opacity", 0.3)
      .attr("stroke", "green").attr("stroke-opacity", 0.3).attr("stroke-width", 1.3);
  };

  if (idLabels[k]) {
    boxed(tg => {
      tg.append("text").attr("x", 6).attr("y", 9.2).text(idLabels[k]);
      tg.append("text").attr("x", 6).attr("y", 18.5).text("z = " + zValues[k]);
    });
    boxed(tg => {
      const x0 = 212.5;
      tg.append("text").attr("x", x0).attr("y", 8.8).text("b = " + bLabels[k]);
      tg.append("text").attr("x", x0).attr("y", 17.8).text("Log(N) = " + logNLabels[k]);
      const w = tg.append("text").attr("x", x0).attr("y", 26.8);
      w.append("tspan").text("W");
      w.append("tspan").attr("font-size", 6).attr("font-style", "italic").attr("dy", 1.8).text("r");
      w.append("tspan").attr("dy", -1.8).text(" = " + wLabels[k]);
    });
  } else {
    boxed(tg => {
      const t = tg.append("text").attr("x", 6).attr("y", 18.5);
      t.append("tspan").text("z");
      t.append("tspan").attr("font-size", 6).attr("font-style", "italic").attr("dy", 1.8).text("cl − pair");
      t.append("tspan").attr("dy", -1.8).text(" = " + zValues[k]);
    });
  }
});

// shared axis labels
const yl = svg.append("text").attr("transform", "translate(23,428) rotate(-90)")
  .attr("text-anchor", "middle").attr("font-size", 16).attr("fill", "#222");
yl.append("tspan").text("Flux [10");
yl.append("tspan").attr("font-size", 11).attr("dy", -6).text("−15");
yl.append("tspan").attr("dy", 6).text(" erg s");
yl.append("tspan").attr("font-size", 11).attr("dy", -6).text("−1");
yl.append("tspan").attr("dy", 6).text("cm");
yl.append("tspan").attr("font-size", 11).attr("dy", -6).text("−2");
yl.append("tspan").attr("dy", 6).text("Å");
yl.append("tspan").attr("font-size", 11).attr("dy", -6).text("−1");
yl.append("tspan").attr("dy", 6).text("]");

svg.append("text").attr("x", 572).attr("y", 838).attr("text-anchor", "middle")
  .attr("font-size", 15.5).attr("fill", "#222").text("Observed wavelength [Å]");
</script>
</body>
</html>
